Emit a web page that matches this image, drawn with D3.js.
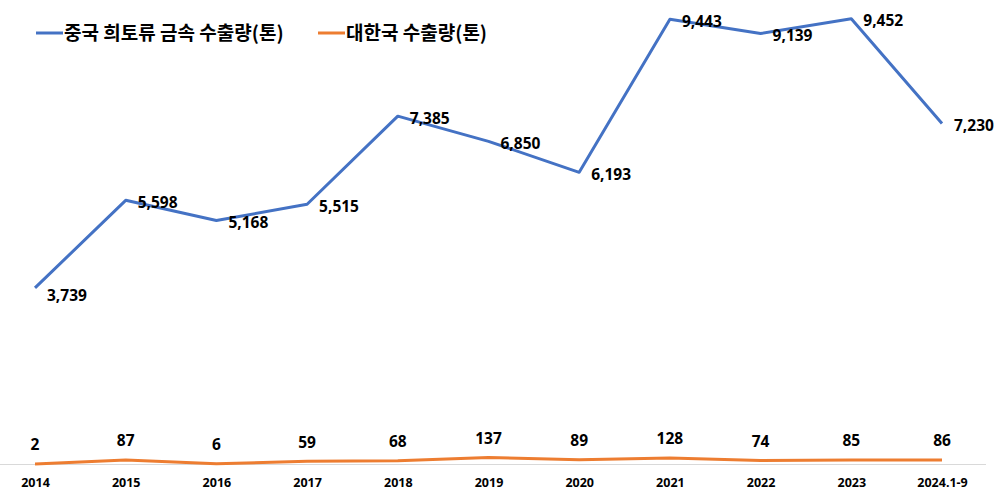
<!DOCTYPE html>
<html>
<head>
<meta charset="utf-8">
<script src="https://cdn.jsdelivr.net/npm/d3@7"></script>
<style>
  body { margin: 0; background: #fff; }
  text { font-family: "Noto Sans CJK KR", "Noto Sans", sans-serif; font-weight: bold; fill: #000; }
</style>
</head>
<body>
<div id="chart"></div>
<script>
var years = ["2014", "2015", "2016", "2017", "2018", "2019", "2020", "2021", "2022", "2023", "2024.1-9"];
var chinaExport = [3739, 5598, 5168, 5515, 7385, 6850, 6193, 9443, 9139, 9452, 7230];
var koreaExport = [2, 87, 6, 59, 68, 137, 89, 128, 74, 85, 86];
var seriesNames = ["중국 희토류 금속 수출량(톤)", "대한국 수출량(톤)"];

var width = 1000, height = 504;

var svg = d3.select("#chart").append("svg")
    .attr("width", width)
    .attr("height", height);

var x = d3.scalePoint()
    .domain(years)
    .range([35, 942]);

var y = d3.scaleLinear()
    .domain([0, 10000])
    .range([464, -7]);

// baseline
svg.append("line")
    .attr("x1", 0)
    .attr("x2", 986)
    .attr("y1", y(0) + 0.5)
    .attr("y2", y(0) + 0.5)
    .attr("stroke", "#d9d9d9")
    .attr("stroke-width", 1);

// x axis labels
var xAxis = d3.axisBottom(x).tickSize(0).tickPadding(14);
var gx = svg.append("g")
    .attr("transform", "translate(0," + y(0) + ")")
    .call(xAxis);
gx.select(".domain").remove();
gx.selectAll("text")
    .attr("font-size", "12.5px")
    .style("font-family", "'Noto Sans', sans-serif")
    .style("font-weight", "bold")
    .attr("fill", "#000");

var line = d3.line()
    .x(function(d, i) { return x(years[i]); })
    .y(function(d) { return y(d); });

svg.append("path")
    .datum(chinaExport)
    .attr("fill", "none")
    .attr("stroke", "#4472C4")
    .attr("stroke-width", 3)
    .attr("stroke-linejoin", "round")
    .attr("d", line);

svg.append("path")
    .datum(koreaExport)
    .attr("fill", "none")
    .attr("stroke", "#ED7D31")
    .attr("stroke-width", 3)
    .attr("stroke-linejoin", "round")
    .attr("d", line);

var fmt = d3.format(",");

// blue labels (right of point)
svg.selectAll(".lab-cn")
    .data(chinaExport)
    .enter().append("text")
    .attr("class", "lab-cn")
    .attr("x", function(d, i) { return x(years[i]) + 12; })
    .attr("y", function(d, i) { return y(d) + (i === 0 ? 8 : 2); })
    .attr("dy", "0.35em")
    .attr("font-size", "15.5px")
    .style("font-family", "'Noto Sans', sans-serif")
    .text(function(d) { return fmt(d); });

// orange labels (above point)
svg.selectAll(".lab-kr")
    .data(koreaExport)
    .enter().append("text")
    .attr("class", "lab-kr")
    .attr("x", function(d, i) { return x(years[i]); })
    .attr("y", function(d) { return y(d) - 19; })
    .attr("dy", "0.35em")
    .attr("text-anchor", "middle")
    .attr("font-size", "15.5px")
    .style("font-family", "'Noto Sans', sans-serif")
    .text(function(d) { return d; });

// legend
var legend = svg.append("g");
var legendItems = [
    {name: seriesNames[0], color: "#4472C4", x: 36},
    {name: seriesNames[1], color: "#ED7D31", x: 318}
];
legendItems.forEach(function(d) {
    legend.append("line")
        .attr("x1", d.x)
        .attr("x2", d.x + 27)
        .attr("y1", 33)
        .attr("y2", 33)
        .attr("stroke", d.color)
        .attr("stroke-width", 3);
    legend.append("text")
        .attr("x", d.x + 28)
        .attr("y", 33)
        .attr("dy", "0.35em")
        .attr("font-size", "19px")
        .text(d.name);
});
</script>
</body>
</html>
